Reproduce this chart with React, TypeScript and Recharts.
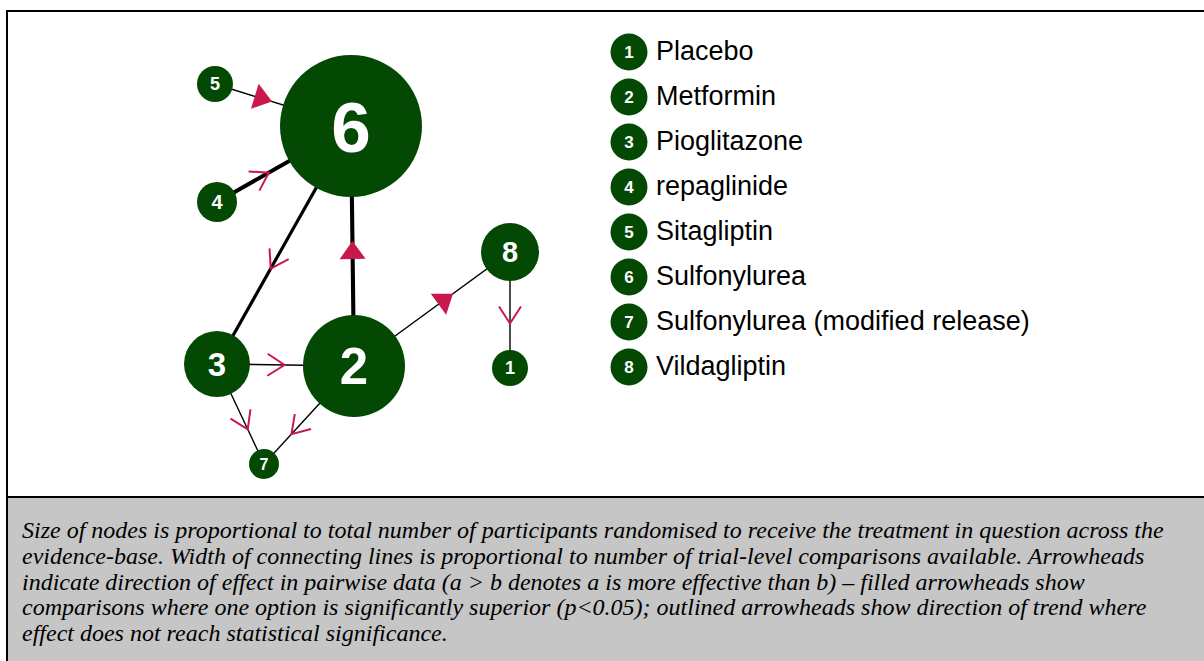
import React from 'react';
import { ScatterChart, Scatter, XAxis, YAxis, Legend } from 'recharts';

// treatments in the network (legend order)
const nodeIds = [1, 2, 3, 4, 5, 6, 7, 8];
const nodeNames = [
  'Placebo',
  'Metformin',
  'Pioglitazone',
  'repaglinide',
  'Sitagliptin',
  'Sulfonylurea',
  'Sulfonylurea (modified release)',
  'Vildagliptin',
];
// network layout coordinates
const nodeX = [510, 354, 217, 217, 215, 351, 264, 510];
const nodeY = [368, 366, 364, 202, 84, 126, 464, 252];
// node radius ~ participants randomised
const nodeSize = [18, 51, 33, 20, 18, 71, 15, 29];

// pairwise comparisons (arrow points from -> to)
const edgeFrom = [5, 4, 6, 2, 2, 8, 3, 3, 2];
const edgeTo = [6, 6, 3, 6, 8, 1, 2, 7, 7];
const edgeTrials = [1, 4, 3, 4, 1, 1, 1, 1, 1];
const edgeSignificant = [true, false, false, true, true, false, false, false, false];

const caption = [
  'Size of nodes is proportional to total number of participants randomised to receive the treatment in question across the',
  'evidence-base. Width of connecting lines is proportional to number of trial-level comparisons available. Arrowheads',
  'indicate direction of effect in pairwise data (a > b denotes a is more effective than b) \u2013 filled arrowheads show',
  'comparisons where one option is significantly superior (p<0.05); outlined arrowheads show direction of trend where',
  'effect does not reach statistical significance.',
];

const GREEN = '#034903';
const RED = '#c8184c';
const W = 1204;
const H = 497;

const nodes = nodeIds.map((id, i) => ({ id, name: nodeNames[i], x: nodeX[i], y: nodeY[i], r: nodeSize[i] }));
const byId = (id: number) => nodes[nodeIds.indexOf(id)];

const edges = edgeFrom.map((f, i) => {
  const a = byId(f);
  const b = byId(edgeTo[i]);
  const dx = b.x - a.x;
  const dy = b.y - a.y;
  const len = Math.sqrt(dx * dx + dy * dy);
  const ux = dx / len;
  const uy = dy / len;
  // midpoint of the visible part of the line
  const m = (a.r + len - b.r) / 2;
  return {
    points: [{ x: a.x, y: a.y }, { x: b.x, y: b.y }],
    width: 0.5 + edgeTrials[i] * 0.9,
    arrow: {
      x: a.x + ux * m,
      y: a.y + uy * m,
      angle: (Math.atan2(uy, ux) * 180) / Math.PI,
      filled: edgeSignificant[i],
    },
  };
});
const arrows = edges.map((e) => e.arrow);

const NoPoint = () => <g />;

const NodeShape = (props: any) => {
  const { cx, cy, payload } = props;
  const fs = Math.max(16, payload.r);
  return (
    <g>
      <circle cx={cx} cy={cy} r={payload.r} fill={GREEN} />
      <text
        x={cx}
        y={cy}
        dy={fs * 0.36}
        textAnchor="middle"
        fill="#fff"
        fontWeight="bold"
        fontSize={fs}
        fontFamily="'Liberation Sans', Arial, sans-serif"
      >
        {payload.id}
      </text>
    </g>
  );
};

const ArrowShape = (props: any) => {
  const { cx, cy, payload } = props;
  const t = `translate(${cx},${cy}) rotate(${payload.angle})`;
  if (payload.filled) {
    return <path transform={t} d="M15,0 L-3,-13 L-3,13 Z" fill={RED} />;
  }
  return (
    <path
      transform={t}
      d="M-9,-11 L8,0 L-9,11"
      fill="none"
      stroke={RED}
      strokeWidth={2}
      strokeLinejoin="miter"
    />
  );
};

const renderLegend = () => (
  <div style={{ fontFamily: "'Liberation Sans', Arial, sans-serif" }}>
    {nodes.map((n) => (
      <div key={n.id} style={{ display: 'flex', alignItems: 'center', height: 45 }}>
        <svg width={38} height={38} style={{ flex: 'none' }}>
          <circle cx={19} cy={19} r={18.5} fill={GREEN} />
          <text x={19} y={19} dy={6} textAnchor="middle" fill="#fff" fontWeight="bold" fontSize={17}>
            {n.id}
          </text>
        </svg>
        <span style={{ marginLeft: 8, fontSize: 27, color: '#000', whiteSpace: 'nowrap' }}>{n.name}</span>
      </div>
    ))}
  </div>
);

const line = (left: number, top: number, width: number, height: number) => (
  <div style={{ position: 'absolute', left, top, width, height, background: '#000' }} />
);

export default function App() {
  return (
    <div style={{ position: 'fixed', left: 0, top: 0, width: 1204, height: 661, overflow: 'hidden', background: '#fff' }}>
      <div style={{ position: 'absolute', left: 8, top: 498, width: 1196, height: 163, background: '#c6c6c6' }} />
      {line(6, 10, 1198, 2)}
      {line(6, 10, 2, 651)}
      {line(6, 496, 1198, 2)}
      <div style={{ position: 'absolute', left: 0, top: 0 }}>
        <ScatterChart width={W} height={H} margin={{ top: 0, right: 0, bottom: 0, left: 0 }}>
          <XAxis type="number" dataKey="x" domain={[0, W]} hide allowDataOverflow />
          <YAxis type="number" dataKey="y" domain={[0, H]} reversed hide allowDataOverflow />
          {edges.map((e, i) => (
            <Scatter
              key={`edge-${i}`}
              data={e.points}
              line={{ stroke: '#000', strokeWidth: e.width }}
              lineType="joint"
              shape={NoPoint}
              isAnimationActive={false}
              legendType="none"
            />
          ))}
          <Scatter data={arrows} shape={ArrowShape} isAnimationActive={false} legendType="none" />
          <Scatter data={nodes} shape={NodeShape} isAnimationActive={false} legendType="none" />
          <Legend
            layout="horizontal"
            align="center"
            verticalAlign="middle"
            content={renderLegend}
            wrapperStyle={{ left: 610, top: 29, width: 520 }}
          />
        </ScatterChart>
      </div>
      <div
        style={{
          position: 'absolute',
          left: 22,
          top: 518,
          fontFamily: "'Liberation Serif', 'Times New Roman', serif",
          fontStyle: 'italic',
          fontSize: 24,
          lineHeight: '25.8px',
          color: '#000',
          whiteSpace: 'nowrap',
        }}
      >
        {caption.map((l, i) => (
          <div key={i}>{l}</div>
        ))}
      </div>
    </div>
  );
}
